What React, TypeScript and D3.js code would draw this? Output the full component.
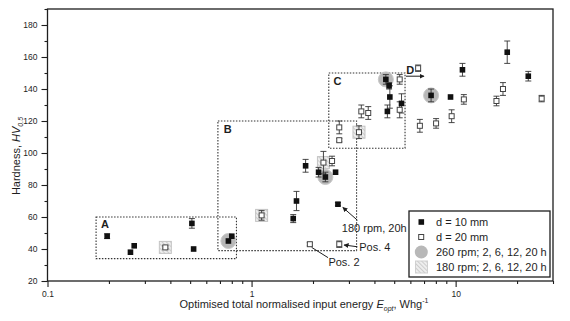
import { useRef, useEffect } from "react";
import * as d3 from "d3";

// [energy Wh/g, hardness HV0.5, error]
const d10mm: [number, number, number][] = [
  [0.196, 48, 1.5], [0.255, 38, 0], [0.266, 42, 0], [0.51, 56, 3], [0.52, 40, 0],
  [0.77, 45, 0], [0.8, 48, 0], [1.6, 59, 2.5], [1.66, 70, 6], [1.84, 92, 4],
  [2.13, 88, 3], [2.3, 85, 3], [2.58, 88, 0], [2.65, 68, 1], [4.55, 146, 3],
  [4.63, 126, 4], [4.72, 142, 2], [4.76, 135, 7], [5.43, 131, 6], [7.58, 136, 4],
  [9.44, 135, 0], [10.8, 152, 4], [17.9, 163, 7], [22.7, 148, 3],
];

const d20mm: [number, number, number][] = [
  [0.378, 41, 1], [1.12, 61, 3], [1.93, 43, 1], [2.25, 94, 7], [2.48, 95, 3],
  [2.69, 43, 2], [2.69, 116, 4], [2.69, 108, 1], [3.36, 113, 4], [3.45, 126, 4],
  [3.73, 125, 4], [5.32, 146, 3], [5.32, 127, 5], [6.55, 153, 2], [6.68, 117, 4],
  [8.02, 118.5, 3], [9.56, 123, 4], [10.97, 133.5, 3], [15.85, 132.5, 3],
  [17.06, 140, 4], [26.4, 134, 2],
];

// 260 rpm series (grey discs) and 180 rpm series (hatched squares)
const rpm260: [number, number][] = [[0.77, 45], [2.3, 85], [4.55, 146], [7.58, 136]];
const rpm180: [number, number][] = [[0.378, 41], [1.12, 61], [2.25, 94], [3.36, 113]];

// dotted regions: label, x0, x1, y0, y1, label x, label y
const regions: [string, number, number, number, number, number, number][] = [
  ["A", 0.173, 0.843, 34, 60, 0.183, 53],
  ["B", 0.684, 3.27, 39, 120, 0.73, 112.5],
  ["C", 2.39, 5.65, 103, 150, 2.52, 142.5],
];

const yTicks = [20, 40, 60, 80, 100, 120, 140, 160, 180];
const yMinor = [30, 50, 70, 90, 110, 130, 150, 170, 190];
const xTicks = [0.1, 1, 10];
const xMinor = [0.2, 0.3, 0.4, 0.5, 0.6, 0.7, 0.8, 0.9, 2, 3, 4, 5, 6, 7, 8, 9, 20, 30];

const legendItems = ["d = 10 mm", "d = 20 mm", "260 rpm; 2, 6, 12, 20 h", "180 rpm; 2, 6, 12, 20 h"];

const W = 570;
const H = 321;
const FONT = "Liberation Sans, Arial, sans-serif";
const INK = "#1e1e1e";

const App = () => {
  const svgRef = useRef<SVGSVGElement>(null);

  useEffect(() => {
    const svg = d3.select(svgRef.current);
    svg.selectAll("*").remove();

    const left = 47.5, right = 553, top = 9, bottom = 281;
    const x = d3.scaleLog().domain([0.1, 30]).range([left, right]);
    const y = d3.scaleLinear().domain([20, 190]).range([bottom, top]);

    const defs = svg.append("defs");
    const pat = defs.append("pattern")
      .attr("id", "hatch")
      .attr("patternUnits", "userSpaceOnUse")
      .attr("width", 3).attr("height", 3)
      .attr("patternTransform", "rotate(-45)");
    pat.append("rect").attr("width", 3).attr("height", 3).attr("fill", "#eeeeee");
    pat.append("line").attr("x1", 0).attr("y1", 0).attr("x2", 0).attr("y2", 3)
      .attr("stroke", "#b5b5b5").attr("stroke-width", 1.2);
    defs.append("marker")
      .attr("id", "arr")
      .attr("viewBox", "0 0 10 10")
      .attr("refX", 9).attr("refY", 5)
      .attr("markerWidth", 5).attr("markerHeight", 5)
      .attr("orient", "auto")
      .append("path").attr("d", "M0 0 L10 5 L0 10 z").attr("fill", INK);

    // frame
    svg.append("rect")
      .attr("x", left).attr("y", top)
      .attr("width", right - left).attr("height", bottom - top)
      .attr("fill", "none").attr("stroke", INK).attr("stroke-width", 1.3);

    // axes
    const yAxis = svg.append("g").attr("transform", `translate(${left},0)`)
      .call(d3.axisLeft(y).tickValues(yTicks).tickSize(6).tickPadding(4));
    svg.append("g").attr("transform", `translate(${left},0)`)
      .call(d3.axisLeft(y).tickValues(yMinor).tickSize(3).tickFormat(() => ""));
    const xAxis = svg.append("g").attr("transform", `translate(0,${bottom})`)
      .call(d3.axisBottom(x).tickValues(xTicks).tickSize(6).tickPadding(3.5).tickFormat(d3.format("")));
    svg.append("g").attr("transform", `translate(0,${bottom})`)
      .call(d3.axisBottom(x).tickValues(xMinor).tickSize(3).tickFormat(() => ""));
    svg.selectAll(".domain").remove();
    svg.selectAll(".tick line").attr("stroke", INK).attr("stroke-width", 1.1);
    [yAxis, xAxis].forEach((g) =>
      g.selectAll("text").attr("font-family", FONT).attr("font-size", 8.5).attr("fill", INK));

    // axis titles
    const xl = svg.append("text")
      .attr("x", 304).attr("y", 307.5)
      .attr("text-anchor", "middle")
      .attr("font-family", FONT).attr("font-size", 11).attr("fill", INK);
    xl.append("tspan").text("Optimised total normalised input energy ");
    xl.append("tspan").attr("font-style", "italic").text("E");
    xl.append("tspan").attr("font-style", "italic").attr("font-size", 7).attr("dy", 3).text("opt");
    xl.append("tspan").attr("dy", -3).text(", Whg");
    xl.append("tspan").attr("font-size", 7).attr("dy", -5).text("-1");

    const yl = svg.append("text")
      .attr("transform", "translate(19.5,156) rotate(-90)")
      .attr("text-anchor", "middle")
      .attr("font-family", FONT).attr("font-size", 11).attr("fill", INK);
    yl.append("tspan").text("Hardness, ");
    yl.append("tspan").attr("font-style", "italic").text("HV");
    yl.append("tspan").attr("font-style", "italic").attr("font-size", 7).attr("dy", 3).text("0.5");

    // dotted regions
    regions.forEach(([lab, x0, x1, y0, y1, lx, ly]) => {
      svg.append("rect")
        .attr("x", x(x0)).attr("y", y(y1))
        .attr("width", x(x1) - x(x0)).attr("height", y(y0) - y(y1))
        .attr("fill", "none").attr("stroke", "#333")
        .attr("stroke-width", 1.1).attr("stroke-dasharray", "1.5,1.5");
      svg.append("text")
        .attr("x", x(lx)).attr("y", y(ly))
        .attr("font-family", FONT).attr("font-size", 11).attr("font-weight", "bold")
        .attr("fill", INK).text(lab);
    });

    // region D label and arrow
    svg.append("text").attr("x", x(5.72)).attr("y", y(149.5))
      .attr("font-family", FONT).attr("font-size", 11).attr("font-weight", "bold")
      .attr("fill", INK).text("D");
    svg.append("line")
      .attr("x1", x(5.71)).attr("y1", y(148)).attr("x2", x(7.0)).attr("y2", y(148))
      .attr("stroke", INK).attr("stroke-width", 1).attr("marker-end", "url(#arr)");

    // grey discs and hatched squares
    svg.append("g").selectAll("circle").data(rpm260).join("circle")
      .attr("cx", (d) => x(d[0])).attr("cy", (d) => y(d[1]))
      .attr("r", 7.5).attr("fill", "#b8b8b8").attr("stroke", "#c8c8c8");
    svg.append("g").selectAll("rect").data(rpm180).join("rect")
      .attr("x", (d) => x(d[0]) - 6).attr("y", (d) => y(d[1]) - 6)
      .attr("width", 12).attr("height", 12)
      .attr("fill", "url(#hatch)").attr("stroke", "#c4c4c4");

    // error bars
    const errs = [...d20mm, ...d10mm].filter((d) => d[2] > 0);
    const eb = svg.append("g").attr("stroke", "#333").attr("stroke-width", 0.9);
    errs.forEach(([e, hv, err]) => {
      const cx = x(e);
      eb.append("line").attr("x1", cx).attr("x2", cx).attr("y1", y(hv - err)).attr("y2", y(hv + err));
      eb.append("line").attr("x1", cx - 3).attr("x2", cx + 3).attr("y1", y(hv - err)).attr("y2", y(hv - err));
      eb.append("line").attr("x1", cx - 3).attr("x2", cx + 3).attr("y1", y(hv + err)).attr("y2", y(hv + err));
    });

    // squares
    svg.append("g").selectAll("rect").data(d20mm).join("rect")
      .attr("x", (d) => x(d[0]) - 2.5).attr("y", (d) => y(d[1]) - 2.5)
      .attr("width", 5).attr("height", 5)
      .attr("fill", "#fff").attr("stroke", "#444").attr("stroke-width", 1);
    svg.append("g").selectAll("rect").data(d10mm).join("rect")
      .attr("x", (d) => x(d[0]) - 2.8).attr("y", (d) => y(d[1]) - 2.8)
      .attr("width", 5.6).attr("height", 5.6)
      .attr("fill", "#111");

    // annotations
    const ann = (t: string, tx: number, ty: number) =>
      svg.append("text").attr("x", x(tx)).attr("y", y(ty))
        .attr("font-family", FONT).attr("font-size", 11).attr("fill", INK).text(t);
    ann("180 rpm, 20h", 2.77, 50.5);
    ann("Pos. 4", 3.37, 39);
    ann("Pos. 2", 2.38, 29.5);
    svg.append("line")
      .attr("x1", x(3.3)).attr("y1", y(58)).attr("x2", x(2.8)).attr("y2", y(66))
      .attr("stroke", INK).attr("stroke-width", 1).attr("marker-end", "url(#arr)");
    svg.append("line")
      .attr("x1", x(3.3)).attr("y1", y(41.4)).attr("x2", x(2.84)).attr("y2", y(42.5))
      .attr("stroke", INK).attr("stroke-width", 1).attr("marker-end", "url(#arr)");
    svg.append("line")
      .attr("x1", x(2.37)).attr("y1", y(34.6)).attr("x2", x(1.97)).attr("y2", y(41))
      .attr("stroke", INK).attr("stroke-width", 1);

    // legend
    const lg = svg.append("g").attr("transform", "translate(409,211)");
    lg.append("rect").attr("width", 141).attr("height", 66)
      .attr("fill", "#fff").attr("stroke", INK).attr("stroke-width", 1.3);
    const rowY = [11, 26, 41, 56];
    lg.append("rect").attr("x", 9.5).attr("y", rowY[0] - 2.8).attr("width", 5.6).attr("height", 5.6).attr("fill", "#111");
    lg.append("rect").attr("x", 9.7).attr("y", rowY[1] - 2.5).attr("width", 5).attr("height", 5)
      .attr("fill", "#fff").attr("stroke", "#444");
    lg.append("circle").attr("cx", 12.3).attr("cy", rowY[2]).attr("r", 6.5).attr("fill", "#b8b8b8");
    lg.append("rect").attr("x", 6.5).attr("y", rowY[3] - 6).attr("width", 12).attr("height", 12)
      .attr("fill", "url(#hatch)").attr("stroke", "#d0d0d0");
    lg.selectAll("text.lt").data(legendItems).join("text")
      .attr("class", "lt")
      .attr("x", 27).attr("y", (_, i) => rowY[i] + 4)
      .attr("font-family", FONT).attr("font-size", 11).attr("fill", INK)
      .text((d) => d);
  }, []);

  return (
    <svg ref={svgRef} width={W} height={H}
      style={{ position: "absolute", left: 0, top: 0, background: "#fff" }} />
  );
};

export default App;
